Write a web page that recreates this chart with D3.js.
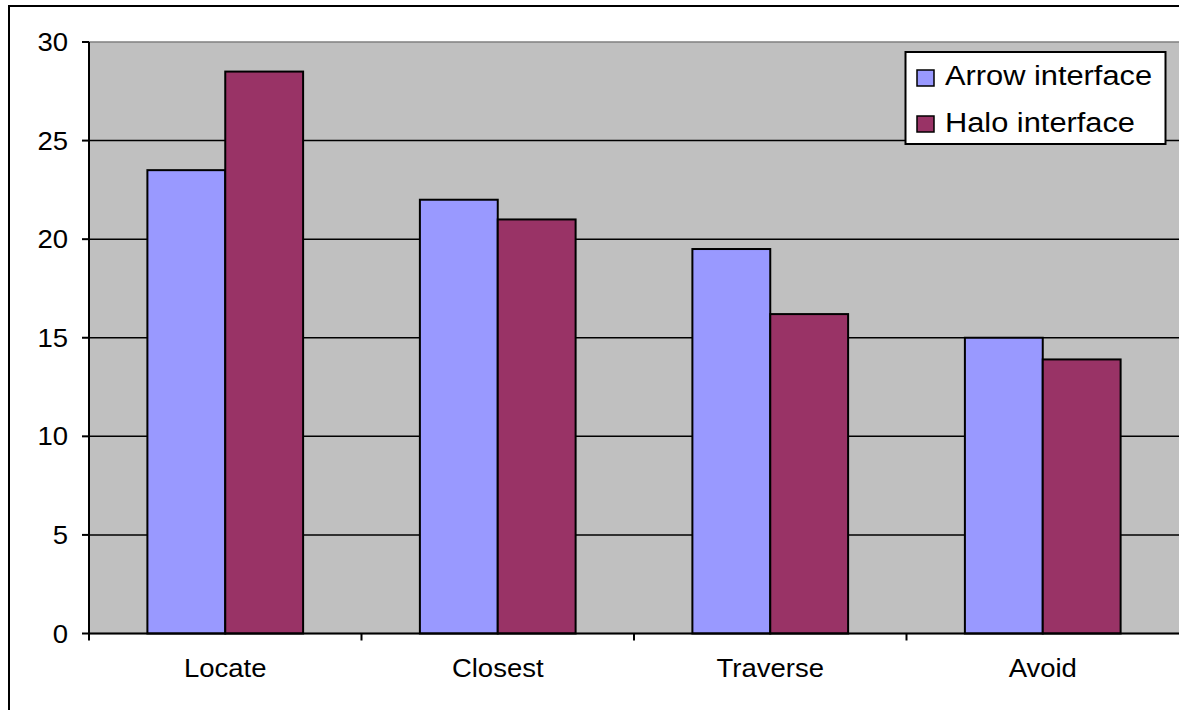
<!DOCTYPE html>
<html>
<head>
<meta charset="utf-8">
<script src="https://cdn.jsdelivr.net/npm/d3@7"></script>
<style>
  body { margin: 0; background: #fff; }
  text { font-family: Arial, "Liberation Sans", sans-serif; fill: #000; }
</style>
</head>
<body>
<svg id="chart" width="1179" height="710"></svg>
<script>
// task times per interface
var categories = ["Locate", "Closest", "Traverse", "Avoid"];
var seriesNames = ["Arrow interface", "Halo interface"];
var arrowVals = [23.5, 22.0, 19.5, 15.0];
var haloVals = [28.5, 21.0, 16.2, 13.9];
var yTicks = [0, 5, 10, 15, 20, 25, 30];
var colors = ["#9999ff", "#993366"];

var svg = d3.select("#chart");
var plot = {left: 89, top: 42, right: 1179, bottom: 633.5};
var stretch = 1.1; // the original text is slightly wide

// outer frame
svg.append("rect")
    .attr("x", 9).attr("y", 6)
    .attr("width", 1200).attr("height", 720)
    .attr("fill", "#fff").attr("stroke", "#000").attr("stroke-width", 2);

var x = d3.scaleBand().domain(categories).range([plot.left, plot.right]);
var y = d3.scaleLinear().domain([0, 30]).range([plot.bottom, plot.top]);

// plot background
svg.append("rect")
    .attr("x", plot.left).attr("y", plot.top)
    .attr("width", plot.right - plot.left + 5).attr("height", plot.bottom - plot.top)
    .attr("fill", "#c0c0c0").attr("stroke", "#808080").attr("stroke-width", 1.5);

// gridlines
svg.append("g").selectAll("line")
    .data(yTicks.filter(function(d){ return d > 0 && d < 30; }))
    .enter().append("line")
    .attr("x1", plot.left).attr("x2", plot.right + 5)
    .attr("y1", function(d){ return y(d); }).attr("y2", function(d){ return y(d); })
    .attr("stroke", "#000").attr("stroke-width", 1.5);

// bars
var barW = x.bandwidth() / 3.5;
var off = (x.bandwidth() - 2 * barW) / 2;
var series = [arrowVals, haloVals];
series.forEach(function(vals, s) {
    svg.append("g").selectAll("rect")
        .data(vals)
        .enter().append("rect")
        .attr("x", function(d, i){ return x(categories[i]) + off + s * barW; })
        .attr("y", function(d){ return y(d); })
        .attr("width", barW)
        .attr("height", function(d){ return y(0) - y(d); })
        .attr("fill", colors[s])
        .attr("stroke", "#000").attr("stroke-width", 2);
});

// y axis
svg.append("line")
    .attr("x1", plot.left).attr("x2", plot.left)
    .attr("y1", plot.top).attr("y2", plot.bottom)
    .attr("stroke", "#000").attr("stroke-width", 2);
var yg = svg.append("g");
yg.selectAll("line").data(yTicks).enter().append("line")
    .attr("x1", plot.left - 7).attr("x2", plot.left)
    .attr("y1", function(d){ return y(d); }).attr("y2", function(d){ return y(d); })
    .attr("stroke", "#000").attr("stroke-width", 2);
yg.selectAll("text").data(yTicks).enter().append("text")
    .attr("transform", function(d){ return "translate(68," + (y(d) + 9) + ") scale(" + stretch + ",1)"; })
    .attr("text-anchor", "end")
    .style("font-size", "25px")
    .text(function(d){ return d; });

// x axis
svg.append("line")
    .attr("x1", plot.left).attr("x2", plot.right + 5)
    .attr("y1", plot.bottom).attr("y2", plot.bottom)
    .attr("stroke", "#000").attr("stroke-width", 2);
var xg = svg.append("g");
xg.selectAll("line").data(categories).enter().append("line")
    .attr("x1", function(d){ return x(d); }).attr("x2", function(d){ return x(d); })
    .attr("y1", plot.bottom).attr("y2", plot.bottom + 7)
    .attr("stroke", "#000").attr("stroke-width", 2);
xg.selectAll("text").data(categories).enter().append("text")
    .attr("transform", function(d){ return "translate(" + (x(d) + x.bandwidth() / 2) + ",677) scale(" + stretch + ",1)"; })
    .attr("text-anchor", "middle")
    .style("font-size", "25px")
    .text(function(d){ return d; });

// legend
var lg = svg.append("g");
lg.append("rect")
    .attr("x", 905.5).attr("y", 52)
    .attr("width", 260).attr("height", 92)
    .attr("fill", "#fff").attr("stroke", "#000").attr("stroke-width", 2);
seriesNames.forEach(function(name, i) {
    lg.append("rect")
        .attr("x", 917).attr("y", 70 + i * 46)
        .attr("width", 17).attr("height", 16)
        .attr("fill", colors[i]).attr("stroke", "#000").attr("stroke-width", 1.5);
    lg.append("text")
        .attr("transform", "translate(945," + (85 + i * 46.5) + ") scale(" + stretch + ",1)")
        .style("font-size", "28px")
        .text(name);
});
</script>
</body>
</html>
